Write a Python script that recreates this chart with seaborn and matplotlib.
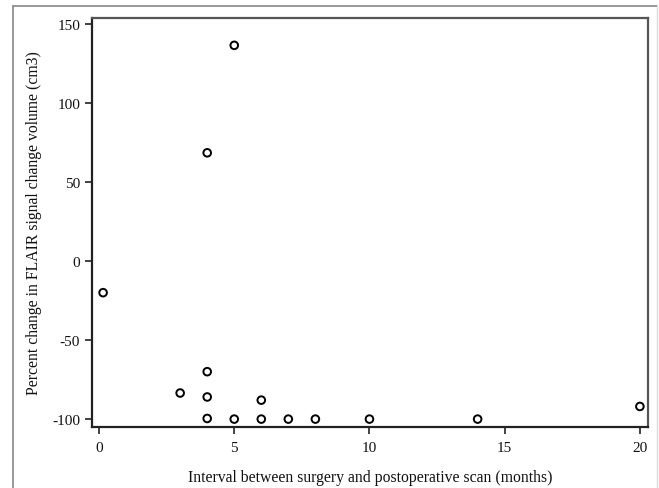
import matplotlib
matplotlib.use("Agg")
import matplotlib.pyplot as plt
import seaborn as sns
import pandas as pd
from matplotlib.lines import Line2D

interval_months = [0.15, 3, 4, 4, 4, 4, 5, 5, 6, 6, 7, 8, 10, 14, 20]
percent_change = [-20, -83.5, -70, -86, -99.6, 68.5, 136.5, -100, -88, -100, -100, -100, -100, -100, -92]
x_ticks = [0, 5, 10, 15, 20]
y_ticks = [-100, -50, 0, 50, 100, 150]

df = pd.DataFrame({"x": interval_months, "y": percent_change})

sns.set_style("white")
plt.rcParams['font.family'] = ['Liberation Serif', 'DejaVu Serif']
plt.rcParams['axes.unicode_minus'] = False

fig = plt.figure(figsize=(6.59, 4.89), dpi=100)
ax = fig.add_axes([92/659, 1-428/489, (648-92)/659, (428-19)/489])

sns.scatterplot(data=df, x="x", y="y", ax=ax, marker="o", s=30,
                facecolor="none", edgecolor="black", linewidth=1.4)

ax.set_xlim(-0.26, 20.3)
ax.set_ylim(-105, 153.8)
ax.set_xticks(x_ticks)
ax.set_yticks(y_ticks)
ax.tick_params(axis="both", direction="out", length=5, width=1.2, color="#222222",
               labelsize=11, labelcolor="#111111", bottom=True, left=True)
ax.tick_params(axis="x", pad=5)
for side in ["left", "bottom"]:
    ax.spines[side].set_color("#222222")
    ax.spines[side].set_linewidth(1.6)
for side in ["top", "right"]:
    ax.spines[side].set_color("#555555")
    ax.spines[side].set_linewidth(1.6)

ax.set_xlabel("Interval between surgery and postoperative scan (months)", fontsize=11.3,
              color="#111111", labelpad=11)
ax.set_ylabel("Percent change in FLAIR signal change volume (cm3)", fontsize=11.3,
              color="#111111", labelpad=7)

# outer frame
fig.add_artist(Line2D([13/659, 13/659], [0, 1-7/489], transform=fig.transFigure, color="#888888", lw=1.2))
fig.add_artist(Line2D([13/659, 657/659], [1-7/489, 1-7/489], transform=fig.transFigure, color="#888888", lw=1.2))
fig.add_artist(Line2D([657/659, 657/659], [0, 1-7/489], transform=fig.transFigure, color="#dddddd", lw=1.0))

fig.savefig("out.png", dpi=100)
